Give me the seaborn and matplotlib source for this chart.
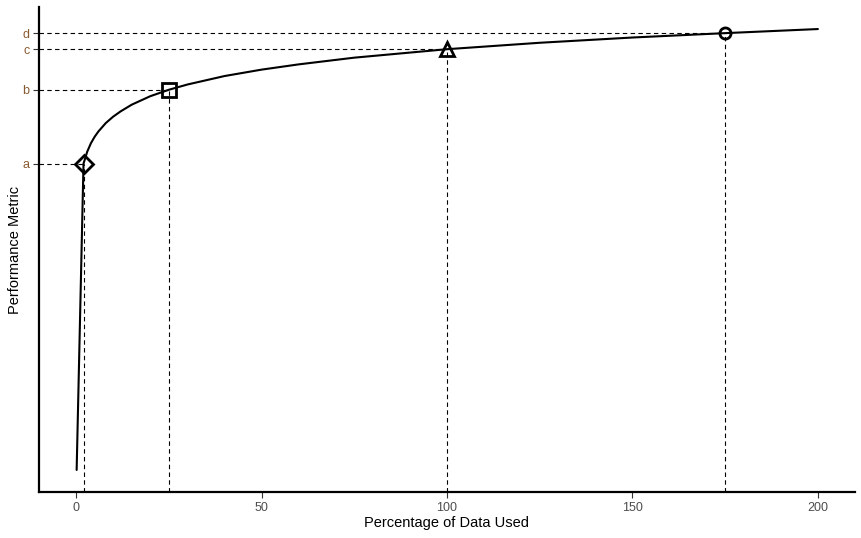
import numpy as np
import pandas as pd
import seaborn as sns
import matplotlib.pyplot as plt

# curve (y in the chart's own units)
pct_used = [0.15, 2, 3, 4, 5, 6, 8, 10, 12, 15, 20, 25, 30, 40, 50, 60, 75,
            100, 125, 150, 175, 200]
metric = [-9.8, 0.69, 1.10, 1.39, 1.61, 1.79, 2.08, 2.30, 2.48, 2.71, 3.00,
          3.22, 3.40, 3.69, 3.91, 4.09, 4.32, 4.61, 4.83, 5.01, 5.16, 5.30]

# highlighted points
mark_x = [2, 25, 100, 175]
mark_y = [0.69, 3.22, 4.61, 5.16]
mark_labels = ["a", "b", "c", "d"]
mark_shapes = ["D", "s", "^", "o"]
mark_sizes = [9, 10, 10, 8]

x_ticks = [0, 50, 100, 150, 200]

sns.set_theme(style="ticks")
plt.rcParams['font.family'] = ['Liberation Sans', 'DejaVu Sans']

df = pd.DataFrame({"pct": pct_used, "metric": metric})

fig = plt.figure(figsize=(8.62, 5.38), dpi=100)
ax = fig.add_axes([39 / 862, 1 - 492 / 538, (855 - 39) / 862, (492 - 7) / 538])

# axis limits with 5% padding like the original
xr = max(pct_used) - min(0, min(pct_used))
x_lo, x_hi = 0 - 0.05 * xr, max(pct_used) + 0.05 * xr
yr = max(metric) - min(metric)
y_lo, y_hi = min(metric) - 0.05 * yr, max(metric) + 0.05 * yr

# guide lines
for mx, my in zip(mark_x, mark_y):
    ax.plot([x_lo, mx], [my, my], color="black", lw=0.8, ls=(0, (4, 3)), zorder=1)
    ax.plot([mx, mx], [y_lo, my], color="black", lw=0.8, ls=(0, (4, 3)), zorder=1)

sns.lineplot(data=df, x="pct", y="metric", ax=ax, color="black", lw=1.5,
             estimator=None, sort=False, zorder=2)

for mx, my, shp, ms in zip(mark_x, mark_y, mark_shapes, mark_sizes):
    ax.plot([mx], [my], marker=shp, ms=ms, mfc="none", mec="black", mew=2,
            ls="none", zorder=3)

ax.set_xlim(x_lo, x_hi)
ax.set_ylim(y_lo, y_hi)
ax.set_xticks(x_ticks)
ax.set_xticklabels([str(t) for t in x_ticks])
ax.set_yticks(mark_y)
ax.set_yticklabels(mark_labels)

for side in ["top", "right"]:
    ax.spines[side].set_visible(False)
for side in ["left", "bottom"]:
    ax.spines[side].set_linewidth(1.6)
    ax.spines[side].set_color("black")

ax.tick_params(axis="both", length=4, width=0.8, color="#333333",
               labelsize=9, labelcolor="#4D4D4D", pad=3)
for lbl in ax.get_yticklabels():
    lbl.set_color("#8A5A30")

ax.set_xlabel("Percentage of Data Used", fontsize=10.5, color="black", labelpad=2)
ax.set_ylabel("Performance Metric", fontsize=10.5, color="black", labelpad=0)

plt.savefig("out.png", dpi=100)
